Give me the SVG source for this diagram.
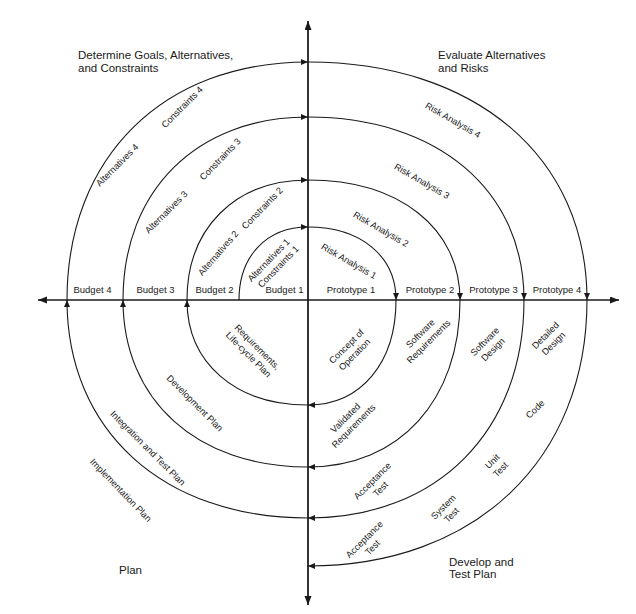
<svg xmlns="http://www.w3.org/2000/svg" width="636" height="614" viewBox="0 0 636 614">
<style>
  .axis { stroke:#1a1a1a; stroke-width:1.3; fill:none; }
  .arc { stroke:#1a1a1a; stroke-width:1.1; fill:none; marker-end:url(#arrow); }
  text { font-family:"Liberation Sans", Arial, sans-serif; fill:#1a1a1a; }
  .title { font-size:11.5px; }
  .lbl { font-size:9.5px; text-anchor:middle; }
  .rl { font-size:9.2px; text-anchor:middle; }
</style>
<defs>
  <marker id="arrow" markerUnits="userSpaceOnUse" markerWidth="8" markerHeight="7" refX="7" refY="3" orient="auto">
    <path d="M0,0 L7,3 L0,6 z" fill="#1a1a1a"/>
  </marker>
  <marker id="axisArrow" markerUnits="userSpaceOnUse" markerWidth="10" markerHeight="8" refX="9" refY="3.5" orient="auto">
    <path d="M0,0 L9,3.5 L0,7 z" fill="#1a1a1a"/>
  </marker>
</defs>
<rect width="636" height="614" fill="#ffffff"/>

<g id="axes">
  <line class="axis" x1="308" y1="605" x2="308" y2="21" marker-end="url(#axisArrow)"/>
  <line class="axis" x1="308" y1="21" x2="308" y2="605" marker-end="url(#axisArrow)"/>
  <line class="axis" x1="308" y1="300" x2="619" y2="300" marker-end="url(#axisArrow)"/>
  <line class="axis" x1="308" y1="300" x2="38" y2="300" marker-end="url(#axisArrow)"/>
</g>

<g id="connectors">
  <path class="arc" d="M239,300 C239,256.2 266.6,227 308,227"/>
  <path class="arc" d="M308,227 C360.8,227 396,256.2 396,300"/>
  <path class="arc" d="M396,300 C396,363 360.8,405 308,405"/>
  <path class="arc" d="M308,405 C235.4,405 187,363 187,300"/>
  <path class="arc" d="M187,300 C187,228 235.4,180 308,180"/>
  <path class="arc" d="M308,180 C399.2,180 460,228 460,300"/>
  <path class="arc" d="M460,300 C460,400.2 399.2,467 308,467"/>
  <path class="arc" d="M308,467 C197,467 123,400.2 123,300"/>
  <path class="arc" d="M123,300 C123,190.2 197,117 308,117"/>
  <path class="arc" d="M308,117 C437.6,117 524,190.2 524,300"/>
  <path class="arc" d="M524,300 C524,430.8 437.6,518 308,518"/>
  <path class="arc" d="M308,518 C163.4,518 67,430.8 67,300"/>
  <path class="arc" d="M67,300 C67,157.2 163.4,62 308,62"/>
  <path class="arc" d="M308,62 C475.4,62 587,157.2 587,300"/>
  <path class="arc" d="M587,300 C587,459.6 475.4,566 308,566"/>
</g>

<g id="quadrant-titles">
  <text class="title" x="78" y="59">Determine Goals, Alternatives,<tspan x="78" y="72">and Constraints</tspan></text>
  <text class="title" x="438" y="59">Evaluate Alternatives<tspan x="438" y="72">and Risks</tspan></text>
  <text class="title" x="119" y="574">Plan</text>
  <text class="title" x="449" y="566">Develop and<tspan x="449" y="578">Test Plan</tspan></text>
</g>

<g id="axis-labels">
  <text class="lbl" x="92.5" y="293">Budget 4</text>
  <text class="lbl" x="155.5" y="293">Budget 3</text>
  <text class="lbl" x="214.5" y="293">Budget 2</text>
  <text class="lbl" x="284.5" y="293">Budget 1</text>
  <text class="lbl" x="351" y="293">Prototype 1</text>
  <text class="lbl" x="430" y="293">Prototype 2</text>
  <text class="lbl" x="493.5" y="293">Prototype 3</text>
  <text class="lbl" x="557" y="293">Prototype 4</text>
</g>

<g id="upper-left-labels">
  <text class="rl" transform="translate(182,107) rotate(-45)" y="3.3">Constraints 4</text>
  <text class="rl" transform="translate(117,165) rotate(-45)" y="3.3">Alternatives 4</text>
  <text class="rl" transform="translate(220,159) rotate(-46)" y="3.3">Constraints 3</text>
  <text class="rl" transform="translate(166,212) rotate(-45)" y="3.3">Alternatives 3</text>
  <text class="rl" transform="translate(262,208) rotate(-46)" y="3.3">Constraints 2</text>
  <text class="rl" transform="translate(218,253) rotate(-49)" y="3.3">Alternatives 2</text>
  <text class="rl" transform="translate(273,263) rotate(-46)"><tspan x="-1" y="-2">Alternatives 1</tspan><tspan x="1" y="9.5">Constraints 1</tspan></text>
</g>

<g id="upper-right-labels">
  <text class="rl" transform="translate(453,120) rotate(30)" y="3.3">Risk Analysis 4</text>
  <text class="rl" transform="translate(422,181) rotate(30)" y="3.3">Risk Analysis 3</text>
  <text class="rl" transform="translate(381,229) rotate(30)" y="3.3">Risk Analysis 2</text>
  <text class="rl" transform="translate(349,261) rotate(30)" y="3.3">Risk Analysis 1</text>
</g>

<g id="lower-left-labels">
  <text class="rl" transform="translate(253,350) rotate(45)"><tspan x="1" y="-2">Requirements,</tspan><tspan x="0" y="9.5">Life-cycle Plan</tspan></text>
  <text class="rl" transform="translate(195,403) rotate(45)" y="3.3">Development Plan</text>
  <text class="rl" transform="translate(148,448) rotate(45)" y="3.3">Integration and Test Plan</text>
  <text class="rl" transform="translate(121,490) rotate(46)" y="3.3">Implementation Plan</text>
</g>

<g id="lower-right-labels">
  <text class="rl" transform="translate(350,350) rotate(-45)"><tspan x="0" y="-2">Concept of</tspan><tspan x="0" y="9.5">Operation</tspan></text>
  <text class="rl" transform="translate(424,337) rotate(-45)"><tspan x="0" y="-2">Software</tspan><tspan x="0" y="9.5">Requirements</tspan></text>
  <text class="rl" transform="translate(488.5,345) rotate(-45)"><tspan x="0" y="-2">Software</tspan><tspan x="0" y="9.5">Design</tspan></text>
  <text class="rl" transform="translate(549,339) rotate(-45)"><tspan x="0" y="-2">Detailed</tspan><tspan x="0" y="9.5">Design</tspan></text>
  <text class="rl" transform="translate(349,421.5) rotate(-45)"><tspan x="0" y="-2">Validated</tspan><tspan x="0" y="9.5">Requirements</tspan></text>
  <text class="rl" transform="translate(535,409) rotate(-45)" y="3.3">Code</text>
  <text class="rl" transform="translate(376,484.5) rotate(-45)"><tspan x="0" y="-2">Acceptance</tspan><tspan x="0" y="9.5">Test</tspan></text>
  <text class="rl" transform="translate(496,465) rotate(-45)"><tspan x="0" y="-2">Unit</tspan><tspan x="0" y="9.5">Test</tspan></text>
  <text class="rl" transform="translate(447,510.5) rotate(-45)"><tspan x="0" y="-2">System</tspan><tspan x="0" y="9.5">Test</tspan></text>
  <text class="rl" transform="translate(368,543) rotate(-45)"><tspan x="0" y="-2">Acceptance</tspan><tspan x="0" y="9.5">Test</tspan></text>
</g>
</svg>
